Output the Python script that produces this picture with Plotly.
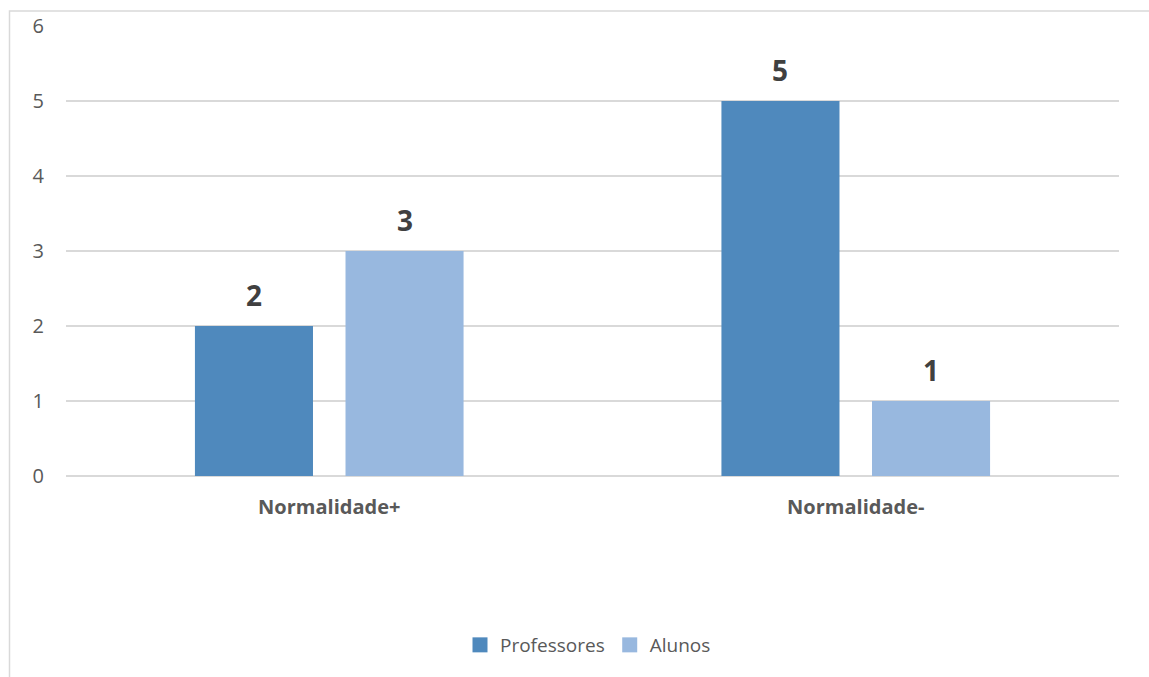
import plotly.graph_objects as go

categories = ["Normalidade+", "Normalidade-"]
professores = [2, 5]
alunos = [3, 1]
y_ticks = [0, 1, 2, 3, 4, 5, 6]

series = [
    ("Professores", professores, "#4f89bd"),
    ("Alunos", alunos, "#98b8df"),
]

W, H = 1149, 677
ML, MR, MT, MB = 66, 30, 26, 201
pw = W - ML - MR
ph = H - MT - MB

fig = go.Figure()
for name, vals, color in series:
    fig.add_trace(go.Bar(
        name=name, x=categories, y=vals,
        marker=dict(color=color, line=dict(width=0)),
        showlegend=False,
    ))
# legend entries with square swatches
for name, vals, color in series:
    fig.add_trace(go.Scatter(
        name=name, x=[None], y=[None], mode="markers",
        marker=dict(symbol="square", size=15, color=color),
        showlegend=True,
    ))

# value labels above the bars
slot = pw / len(categories) * (1 - 0.428) / 2
offsets = [-slot / 2, slot / 2]
for (name, vals, color), dx in zip(series, offsets):
    for cat, v in zip(categories, vals):
        fig.add_annotation(
            x=cat, y=v, xref="x", yref="y", text=f"<b>{v}</b>",
            showarrow=False, xshift=dx, yshift=31.5, yanchor="middle",
            font=dict(size=28, color="#404040", family="Open Sans"),
        )

# outer chart frame (left and top edges visible)
fig.add_shape(type="rect", xref="paper", yref="paper",
              x0=(9.5 - ML) / pw, x1=1.2,
              y0=-0.6, y1=(H - MB - 11) / ph,
              line=dict(color="#d9d9d9", width=1.5), layer="below")

fig.update_layout(
    width=W, height=H,
    margin=dict(l=ML, r=MR, t=MT, b=MB),
    paper_bgcolor="white", plot_bgcolor="white",
    barmode="group", bargap=0.428, bargroupgap=0.216,
    font=dict(family="Open Sans", color="#595959"),
    showlegend=True,
    legend=dict(orientation="h", x=(588 - ML) / pw, xanchor="center",
                y=(H - MB - 645) / ph, yanchor="middle",
                font=dict(size=19, color="#595959"),
                itemwidth=30, traceorder="normal"),
    xaxis=dict(showgrid=False, showline=False, zeroline=False,
               tickfont=dict(size=20, color="#595959", family="Open Sans"),
               ticklabelstandoff=17),
    yaxis=dict(range=[0, 6], tickvals=y_ticks, showgrid=True,
               gridcolor="#d9d9d9", gridwidth=1.5,
               zeroline=True, zerolinecolor="#d9d9d9", zerolinewidth=1.5,
               showline=False,
               tickfont=dict(size=20, color="#595959", family="Open Sans"),
               ticklabelstandoff=21),
)
fig.update_xaxes(tickprefix="<b>", ticksuffix="</b>")

fig.write_html("out.html")
